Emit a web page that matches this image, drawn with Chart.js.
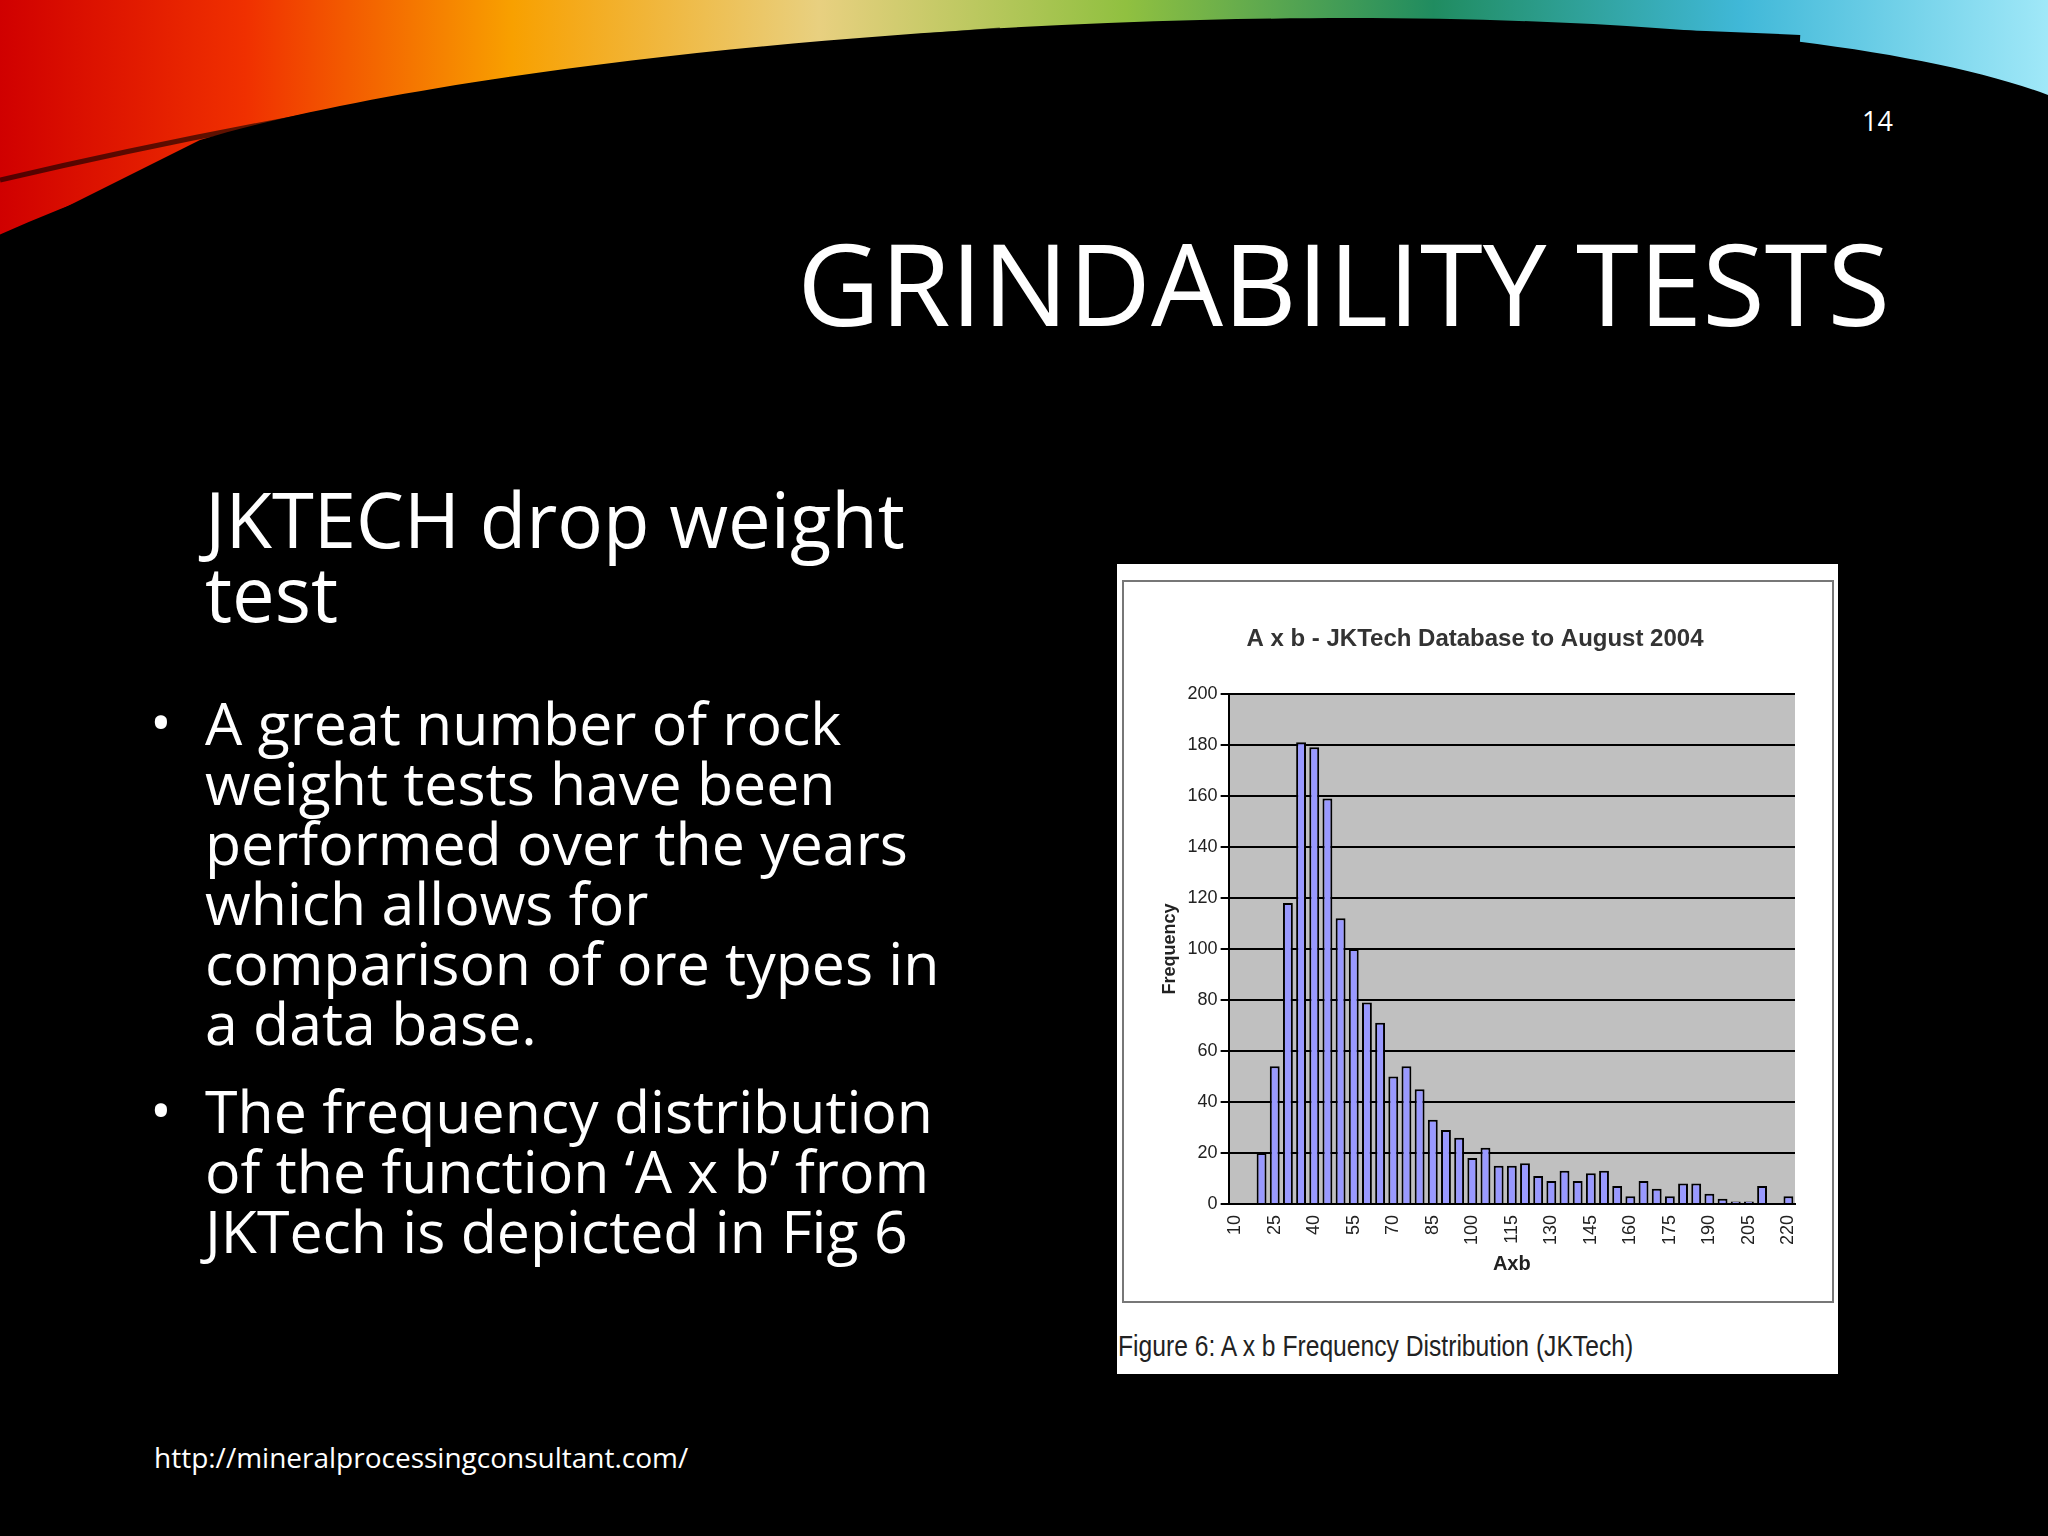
<!DOCTYPE html>
<html><head><meta charset="utf-8">
<script src="https://cdn.jsdelivr.net/npm/chart.js@4/dist/chart.umd.min.js"></script>
<style>
body{margin:0;width:2048px;height:1536px;background:#000;overflow:hidden;position:relative;font-family:"Open Sans","Noto Sans",sans-serif;color:#fff}
.abs{position:absolute;white-space:nowrap}
#box{position:absolute;left:1117px;top:564px;width:721px;height:810px;background:#fff}
#frame{position:absolute;left:1122px;top:580px;width:712px;height:723px;border:2px solid #777;box-sizing:border-box}
</style></head><body>
<svg class="abs" style="left:0;top:0" width="2048" height="260">
<defs>
<linearGradient id="g1" x1="0" x2="1" y1="0" y2="0">
<stop offset="0" stop-color="#d00000"/><stop offset="0.12" stop-color="#f03000"/>
<stop offset="0.25" stop-color="#f8a000"/><stop offset="0.4" stop-color="#e8d080"/>
<stop offset="0.55" stop-color="#90c040"/><stop offset="0.7" stop-color="#208c60"/>
<stop offset="0.85" stop-color="#40b8d8"/><stop offset="1" stop-color="#a0e8f8"/>
</linearGradient></defs>
<path d="M0 0 L2048 0 L2048 95 C1900 40 1600 10 1200 20 C800 30 400 80 200 140 L0 240 Z" fill="url(#g1)"/>
<path d="M0 240 C200 150 500 70 900 45 C1200 28 1500 25 1800 40" stroke="#000" stroke-width="10" fill="none"/>
<path d="M0 180 C300 110 600 60 1000 30" stroke="#000" stroke-width="5" fill="none" opacity="0.6"/>
</svg>
<div class="abs" style="left:1862px;top:102px;font-size:27px">14</div>
<div class="abs" style="right:158px;top:212px;font-size:114px;line-height:140px">GRINDABILITY TESTS</div>
<div class="abs" style="left:205px;top:482px;font-size:76px;line-height:74px">JKTECH drop weight<br>test</div>
<div class="abs" style="left:150px;top:692px;font-size:58px;line-height:60px">•</div>
<div class="abs" style="left:205px;top:692px;font-size:59px;line-height:60px">A great number of rock<br>weight tests have been<br>performed over the years<br>which allows for<br>comparison of ore types in<br>a data base.</div>
<div class="abs" style="left:150px;top:1080px;font-size:58px;line-height:60px">•</div>
<div class="abs" style="left:205px;top:1080px;font-size:59px;line-height:60px">The frequency distribution<br>of the function ‘A x b’ from<br>JKTech is depicted in Fig 6</div>
<div class="abs" style="left:154px;top:1438px;font-size:28px">http://mineralprocessingconsultant.com/</div>
<div id="box"></div>
<div id="frame"></div>
<div class="abs" style="left:1118px;top:1330px;font-size:29px;color:#222;font-family:'Liberation Sans',sans-serif;transform:scaleX(0.85);transform-origin:left">Figure 6: A x b Frequency Distribution (JKTech)</div>
<div class="abs" style="left:1125px;top:585px;width:705px;height:715px"><canvas id="c"></canvas></div>
<script>
const categories = [10,15,20,25,30,35,40,45,50,55,60,65,70,75,80,85,90,95,100,105,110,115,120,125,130,135,140,145,150,155,160,165,170,175,180,185,190,195,200,205,210,215,220];
const frequency = [0,0,20,54,118,181,179,159,112,100,79,71,50,54,45,33,29,26,18,22,15,15,16,11,9,13,9,12,13,7,3,9,6,3,8,8,4,2,1,1,7,0,3];
const yTicks = [0,20,40,60,80,100,120,140,160,180,200];

const plotBg = {
  id:'plotBg',
  beforeDraw(chart){
    const a = chart.chartArea, g = chart.ctx;
    g.save(); g.fillStyle = '#c0c0c0'; g.fillRect(a.left,a.top,a.right-a.left,a.bottom-a.top); g.restore();
  }
};

new Chart(document.getElementById('c'), {
  type:'bar',
  data:{labels:categories.map(String),datasets:[{data:frequency,backgroundColor:'#9999ff',borderColor:'#000',borderWidth:2,categoryPercentage:1,barPercentage:0.75}]},
  options:{
    responsive:true,maintainAspectRatio:false,animation:false,
    layout:{padding:{left:30,right:35,top:10,bottom:20}},
    plugins:{legend:{display:false},
      title:{display:true,text:'A x b - JKTech Database to August 2004',color:'#333',
        font:{family:'Liberation Sans',size:24,weight:'bold'},padding:{top:30,bottom:40}}},
    scales:{
      y:{min:0,max:200,afterBuildTicks(s){s.ticks=yTicks.map(v=>({value:v}));},
        grid:{color:'#000',lineWidth:2,tickLength:8},border:{color:'#000',width:2},
        ticks:{color:'#222',font:{family:'Liberation Sans',size:18}},
        title:{display:true,text:'Frequency',color:'#222',font:{family:'Liberation Sans',size:18,weight:'bold'}}},
      x:{grid:{display:false},border:{color:'#000',width:2},
        ticks:{autoSkip:false,maxRotation:90,minRotation:90,color:'#222',font:{family:'Liberation Sans',size:18},
          callback:(v,i)=> i%3===0 ? categories[i] : ''},
        title:{display:true,text:'Axb',color:'#222',font:{family:'Liberation Sans',size:20,weight:'bold'}}}
    }
  },
  plugins:[plotBg]
});
</script>
</body></html>
